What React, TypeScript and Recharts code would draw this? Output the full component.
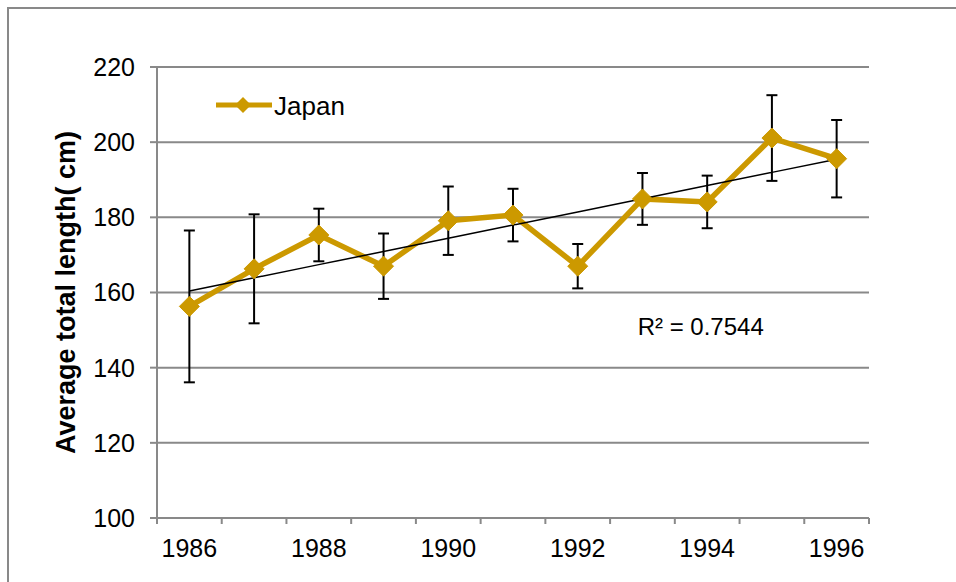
import React from 'react';
import {
  LineChart,
  Line,
  XAxis,
  YAxis,
  CartesianGrid,
  ErrorBar,
  Legend,
  ReferenceDot,
  Label,
} from 'recharts';

// ---- data ----
const years = [1986, 1987, 1988, 1989, 1990, 1991, 1992, 1993, 1994, 1995, 1996];
const japanMeans = [156.3, 166.3, 175.3, 167.0, 179.1, 180.6, 167.0, 184.9, 184.1, 201.1, 195.6];
const japanErrors = [20.2, 14.5, 7.0, 8.7, 9.1, 7.0, 5.9, 6.9, 7.0, 11.4, 10.3];
const yTicks = [100, 120, 140, 160, 180, 200, 220];
const xLabelYears = [1986, 1988, 1990, 1992, 1994, 1996];
const xBoundaries = [1985.5, 1986.5, 1987.5, 1988.5, 1989.5, 1990.5, 1991.5, 1992.5, 1993.5, 1994.5, 1995.5, 1996.5];
const seriesName = 'Japan';
const r2Text = 'R² = 0.7544';
const yAxisTitle = 'Average total length( cm)';

// ---- linear trendline (least squares over the series) ----
const n = years.length;
const meanX = years.reduce((a, b) => a + b, 0) / n;
const meanY = japanMeans.reduce((a, b) => a + b, 0) / n;
let sxy = 0;
let sxx = 0;
for (let i = 0; i < n; i++) {
  sxy += (years[i] - meanX) * (japanMeans[i] - meanY);
  sxx += (years[i] - meanX) * (years[i] - meanX);
}
const slope = sxy / sxx;

const data = years.map((year, i) => ({
  year,
  japan: japanMeans[i],
  err: japanErrors[i],
  trend: meanY + slope * (year - meanX),
}));

// ---- styles ----
const GOLD = '#CC9900';
const GRID = '#898989';
const FONT = '"Liberation Sans", Arial, Helvetica, sans-serif';

const r2X = 1993.9;
const r2Y = 151;

const Diamond = (props: any) => {
  const { cx, cy } = props;
  if (cx == null || cy == null) return <g />;
  const h = 10;
  return (
    <polygon
      points={`${cx},${cy - h} ${cx + h},${cy} ${cx},${cy + h} ${cx - h},${cy}`}
      fill={GOLD}
      stroke={GOLD}
      strokeWidth={1}
    />
  );
};

const renderXTick = (props: any) => {
  const { x, y, payload } = props;
  const v = payload.value;
  if (!Number.isInteger(v)) {
    return <line x1={x} x2={x} y1={y - 6} y2={y} stroke={GRID} strokeWidth={2} />;
  }
  if (xLabelYears.includes(v)) {
    return (
      <text x={x} y={y + 33} textAnchor="middle" fontSize={25} fill="#000" fontFamily={FONT}>
        {v}
      </text>
    );
  }
  return <g />;
};

const renderYTitle = (props: any) => {
  const vb = props.viewBox || { x: 0, y: 0, width: 0, height: 0 };
  const cx = vb.x + 66;
  const cy = vb.y + vb.height / 2;
  return (
    <text
      x={cx}
      y={cy}
      transform={`rotate(-90 ${cx} ${cy})`}
      textAnchor="middle"
      fontWeight="bold"
      fontSize={27}
      fill="#000"
      fontFamily={FONT}
    >
      {yAxisTitle}
    </text>
  );
};

const renderLegend = () => (
  <svg width={200} height={40} style={{ display: 'block', overflow: 'visible' }}>
    <line x1={7} x2={63} y1={20} y2={20} stroke={GOLD} strokeWidth={5} />
    <polygon points={`34,12 42,20 34,28 26,20`} fill={GOLD} />
    <text x={65} y={30} fontSize={26} fill="#000" fontFamily={FONT}>
      {seriesName}
    </text>
  </svg>
);

export default function App() {
  const xTicks = [...xBoundaries, ...xLabelYears].sort((a, b) => a - b);
  return (
    <div
      style={{
        position: 'fixed',
        top: 7,
        left: 7,
        width: 947,
        height: 573,
        borderTop: `2px solid ${GRID}`,
        borderLeft: `2px solid ${GRID}`,
        background: '#fff',
        fontFamily: FONT,
      }}
    >
      <LineChart
        width={947}
        height={573}
        data={data}
        margin={{ top: 58, right: 87, left: 0, bottom: 0 }}
      >
        <CartesianGrid vertical={false} stroke={GRID} strokeWidth={2} />
        <XAxis
          dataKey="year"
          type="number"
          domain={[1985.5, 1996.5]}
          ticks={xTicks}
          interval={0}
          tickLine={false}
          tickSize={6}
          tickMargin={0}
          height={64}
          axisLine={{ stroke: GRID, strokeWidth: 2 }}
          tick={renderXTick}
          allowDecimals
        />
        <YAxis
          type="number"
          domain={[100, 220]}
          ticks={yTicks}
          interval={0}
          width={148}
          axisLine={{ stroke: GRID, strokeWidth: 2 }}
          tickLine={{ stroke: GRID, strokeWidth: 2 }}
          tickSize={7}
          tickMargin={15}
          tick={{ fill: '#000', fontSize: 25, fontFamily: FONT }}
        >
          <Label content={renderYTitle} />
        </YAxis>
        <Legend
          layout="horizontal"
          verticalAlign="middle"
          align="center"
          content={renderLegend}
          wrapperStyle={{ top: 76, left: 200, width: 200, height: 40 }}
        />
        <Line
          dataKey="japan"
          stroke="none"
          dot={false}
          activeDot={false}
          legendType="none"
          isAnimationActive={false}
        >
          <ErrorBar dataKey="err" width={5.5} stroke="#000" strokeWidth={2} direction="y" />
        </Line>
        <Line
          dataKey="japan"
          name={seriesName}
          stroke={GOLD}
          strokeWidth={5.5}
          dot={<Diamond />}
          activeDot={false}
          isAnimationActive={false}
        />
        <Line
          dataKey="trend"
          stroke="#000"
          strokeWidth={1.5}
          dot={false}
          activeDot={false}
          legendType="none"
          isAnimationActive={false}
        />
        <ReferenceDot
          x={r2X}
          y={r2Y}
          r={0}
          fill="none"
          stroke="none"
          label={{ value: r2Text, position: 'center', fill: '#000', fontSize: 24, fontFamily: FONT }}
        />
      </LineChart>
    </div>
  );
}
